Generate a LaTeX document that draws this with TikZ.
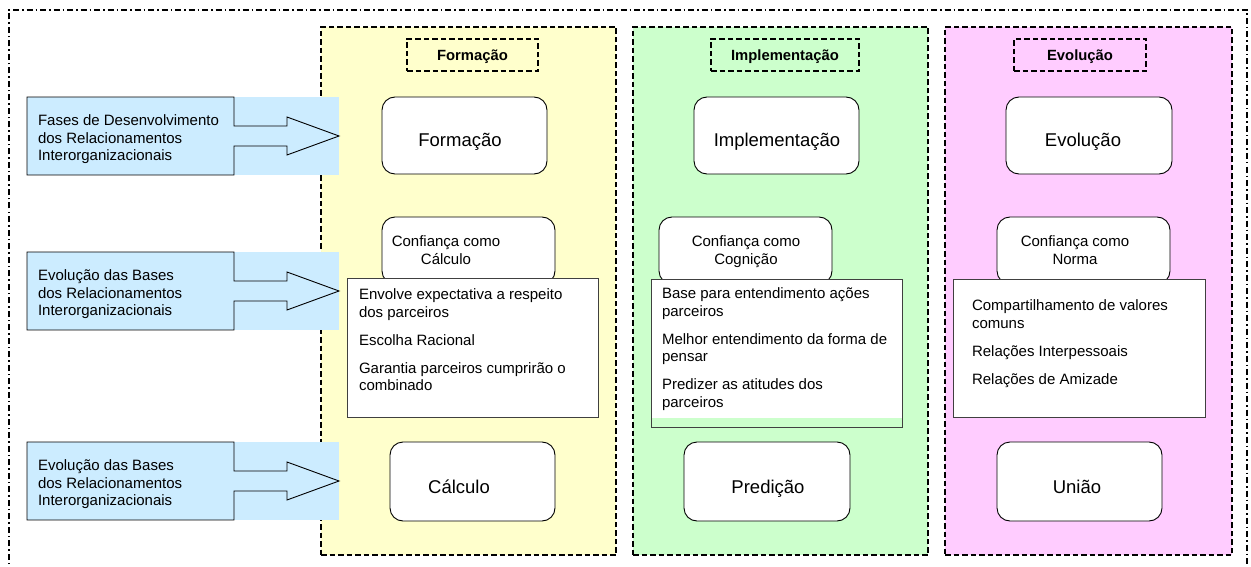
\documentclass[tikz,border=0pt]{standalone}
\usepackage{fontspec}
\setmainfont{Liberation Sans}
\definecolor{cyel}{HTML}{FFFFCC}
\definecolor{cgrn}{HTML}{CCFFCC}
\definecolor{cpnk}{HTML}{FFCCFF}
\definecolor{cblu}{HTML}{CCECFF}
\definecolor{cbord}{HTML}{404040}
\newcommand\mycallout[3]{%
 \begin{scope}[shift={(0,#1)}]
  \fill[cblu] (27,0) rectangle (339,78);
  \draw[line width=0.9pt, line join=miter] (27,0) -- (234,0) -- (234,29) -- (287,29) -- (287,20) -- (339,39) -- (287,58) -- (287,49) -- (234,49) -- (234,78) -- (27,78) -- cycle;
  \node[small, align=left, anchor=west] (#2) at (38,42.5) {#3};
 \end{scope}}
\begin{document}
\begin{tikzpicture}[x=1pt,y=-1pt,
  every node/.style={inner sep=0pt, outer sep=0pt},
  small/.style={font=\fontsize{15}{17.5}\selectfont},
  big/.style={font=\fontsize{18.5}{22}\selectfont, anchor=base},
  column/.style={draw=black, line width=1.8pt, dash pattern=on 5.5pt off 3pt, anchor=north west},
  header/.style={draw=black, line width=1.8pt, dash pattern=on 5.5pt off 3pt, anchor=north west,
     font=\fontsize{14.8}{17}\selectfont\bfseries, text height=11pt, text depth=0pt},
  phase/.style={draw=black, line width=0.9pt, fill=white, rounded corners=13pt, anchor=north west},
  listbox/.style={draw=cbord, line width=0.9pt, fill=white, anchor=north west},
  listtext/.style={small, align=left, anchor=north west},
  trusttext/.style={small, align=center, anchor=north}]
\useasboundingbox (0,0) rectangle (1251,567);
\clip (0,0) rectangle (1251,567);
% outer frame
\draw[line width=1.8pt, dash pattern=on 6pt off 3pt on 1.5pt off 3pt] (9,600) -- (9,10) -- (1247,10) -- (1247,600);
% columns
\node[column, fill=cyel, minimum width=295, minimum height=528] (colF) at (321,27) {};
\node[column, fill=cgrn, minimum width=295, minimum height=528] (colI) at (633,27) {};
\node[column, fill=cpnk, minimum width=287, minimum height=528] (colE) at (945,27) {};
% headers
\node[header, minimum width=131, minimum height=32] (hF) at (407,39) {Formação};
\node[header, minimum width=148, minimum height=32] (hI) at (711,39) {Implementação};
\node[header, minimum width=132, minimum height=32] (hE) at (1014,39) {Evolução};
% phase boxes
\node[phase, minimum width=165, minimum height=77] (pF) at (382,97) {};
\node[phase, minimum width=165, minimum height=77] (pI) at (694,97) {};
\node[phase, minimum width=166, minimum height=77] (pE) at (1006,97) {};
\node[big] (lpF) at (460,147) {Formação};
\node[big] (lpI) at (777,147) {Implementação};
\node[big] (lpE) at (1083,147) {Evolução};
% trust boxes
\node[phase, minimum width=173, minimum height=67] (tF) at (382,217) {};
\node[phase, minimum width=173, minimum height=67] (tI) at (659,217) {};
\node[phase, minimum width=173, minimum height=67] (tE) at (997,217) {};
\node[trusttext] (ltF) at (446,236) {Confiança como\\Cálculo};
\node[trusttext] (ltI) at (746,236) {Confiança como\\Cognição};
\node[trusttext] (ltE) at (1075,236) {Confiança como\\Norma};
% list boxes
\node[listbox, minimum width=251, minimum height=139] (bF) at (347,278) {};
\node[listbox, minimum width=251, minimum height=148] (bI) at (651,279) {};
\fill[cgrn] (651.5,418) rectangle (901.5,426.5);
\node[listbox, minimum width=252, minimum height=138] (bE) at (953,279) {};
\node[listtext] (xF) at (359,289) {Envolve expectativa a respeito\\dos parceiros\\[10.5pt]Escolha Racional\\[10.5pt]Garantia parceiros cumprirão o\\combinado};
\node[listtext] (xI) at (662,288) {Base para entendimento ações\\parceiros\\[10.5pt]Melhor entendimento da forma de\\pensar\\[10.5pt]Predizer as atitudes dos\\parceiros};
\node[listtext] (xE) at (972,300) {Compartilhamento de valores\\comuns\\[10.5pt]Relações Interpessoais\\[10.5pt]Relações de Amizade};
% bottom boxes
\node[phase, minimum width=165, minimum height=79] (bbF) at (390,442) {};
\node[phase, minimum width=166, minimum height=79] (bbI) at (684,442) {};
\node[phase, minimum width=165, minimum height=79] (bbE) at (997,442) {};
\node[big] (lbF) at (459,493) {Cálculo};
\node[big] (lbI) at (768,493) {Predição};
\node[big] (lbE) at (1077,493) {União};
% callouts
\mycallout{97}{c1}{Fases de Desenvolvimento\\dos Relacionamentos\\Interorganizacionais}
\mycallout{252}{c2}{Evolução das Bases\\dos Relacionamentos\\Interorganizacionais}
\mycallout{442}{c3}{Evolução das Bases\\dos Relacionamentos\\Interorganizacionais}
\end{tikzpicture}
\end{document}
